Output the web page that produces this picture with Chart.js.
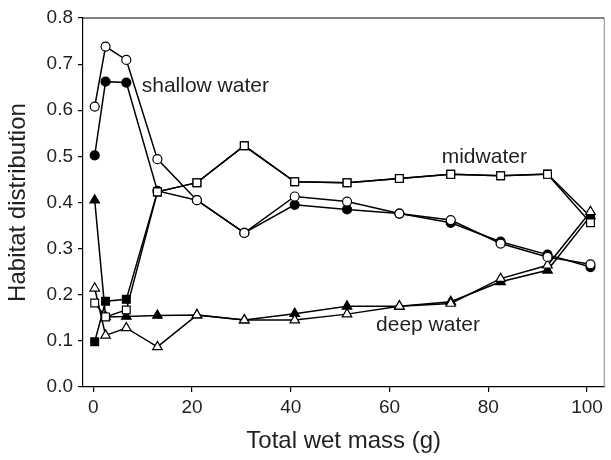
<!DOCTYPE html>
<html>
<head>
<meta charset="utf-8">
<script src="https://cdn.jsdelivr.net/npm/chart.js@4.4.0/dist/chart.umd.min.js"></script>
<style>
  html, body { margin: 0; padding: 0; background: #fff; }
  canvas { display: block; }
</style>
</head>
<body>
<canvas id="habitat" width="611" height="460"></canvas>
<script>
// total wet mass (g) at each sample
const mass = [0.3, 2.5, 6.7, 13, 21, 30.6, 40.8, 51.4, 62, 72.4, 82.5, 92, 100.7];

// habitat distribution, open and filled symbols
const shallowOpen   = [0.608, 0.738, 0.709, 0.494, 0.405, 0.334, 0.413, 0.402, 0.376, 0.362, 0.311, 0.282, 0.266];
const shallowFilled = [0.502, 0.662, 0.660, 0.425, 0.405, 0.334, 0.395, 0.385, 0.376, 0.356, 0.315, 0.287, 0.260];
const midOpen       = [0.182, 0.152, 0.167, 0.423, 0.443, 0.523, 0.445, 0.443, 0.452, 0.461, 0.458, 0.461, 0.356];
const midFilled     = [0.098, 0.186, 0.190, 0.423, 0.443, 0.523, 0.445, 0.443, 0.452, 0.461, 0.458, 0.462, 0.369];
const deepOpen      = [0.214, 0.112, 0.128, 0.087, 0.156, 0.145, 0.145, 0.158, 0.175, 0.181, 0.235, 0.264, 0.380];
const deepFilled    = [0.405, 0.152, 0.153, 0.155, 0.156, 0.145, 0.159, 0.175, 0.175, 0.185, 0.228, 0.253, 0.371];

const xTicks = [0, 20, 40, 60, 80, 100];
const yTicks = [0, 0.1, 0.2, 0.3, 0.4, 0.5, 0.6, 0.7, 0.8];

const seriesNames = ['shallow water', 'midwater', 'deep water'];
const namePos = [[22.7, 0.652], [79.2, 0.499], [67.8, 0.135]];

const FONT = '"Liberation Sans", Arial, Helvetica, sans-serif';
const INK = '#231f20';

const pts = vals => mass.map((m, i) => ({ x: m, y: vals[i] }));

function series(vals, style, filled, radius) {
  return {
    data: pts(vals),
    showLine: true,
    borderColor: '#000',
    borderWidth: 1.5,
    pointStyle: style,
    pointRadius: radius,
    pointHoverRadius: radius,
    pointBorderWidth: 1.2,
    pointBorderColor: '#000',
    pointBackgroundColor: filled ? '#000' : '#fff'
  };
}

// box around plot: top and right edges
const frame = {
  id: 'frame',
  afterDatasetsDraw(chart) {
    const { ctx, chartArea: a } = chart;
    ctx.save();
    ctx.lineWidth = 1.2;
    ctx.strokeStyle = '#000';
    ctx.beginPath();
    ctx.moveTo(a.left, a.top);
    ctx.lineTo(a.right, a.top);
    ctx.stroke();
    ctx.strokeStyle = '#999';
    ctx.beginPath();
    ctx.moveTo(a.right, a.top);
    ctx.lineTo(a.right, a.bottom);
    ctx.stroke();
    ctx.restore();
  }
};

const names = {
  id: 'names',
  afterDatasetsDraw(chart) {
    const { ctx, scales: { x, y } } = chart;
    ctx.save();
    ctx.font = '21px ' + FONT;
    ctx.fillStyle = INK;
    ctx.textAlign = 'center';
    ctx.textBaseline = 'middle';
    seriesNames.forEach((t, i) => {
      ctx.fillText(t, x.getPixelForValue(namePos[i][0]), y.getPixelForValue(namePos[i][1]));
    });
    ctx.restore();
  }
};

// first dataset is drawn on top, so the open symbols go first
new Chart(document.getElementById('habitat'), {
  type: 'scatter',
  data: {
    datasets: [
      series(midOpen, 'rect', false, 5.5),
      series(shallowOpen, 'circle', false, 4.5),
      series(deepOpen, 'triangle', false, 5.5),
      series(deepFilled, 'triangle', true, 5.5),
      series(midFilled, 'rect', true, 5.5),
      series(shallowFilled, 'circle', true, 4.5)
    ]
  },
  options: {
    responsive: false,
    animation: false,
    events: [],
    layout: { padding: { top: 18, right: 4, left: 0, bottom: 0 } },
    plugins: {
      legend: { display: false },
      tooltip: { enabled: false }
    },
    scales: {
      x: {
        type: 'linear',
        min: -2.07,
        max: 103.5,
        afterBuildTicks: s => { s.ticks = xTicks.map(v => ({ value: v })); },
        afterFit: s => { s.height = 73; },
        border: { display: true, color: '#000', width: 1.2 },
        grid: { drawOnChartArea: false, drawTicks: true, tickLength: 5, color: '#000', lineWidth: 1.2 },
        ticks: { color: INK, font: { family: FONT, size: 19 }, padding: 4, maxRotation: 0 },
        title: { display: true, text: 'Total wet mass (g)', color: INK, font: { family: FONT, size: 24 } }
      },
      y: {
        type: 'linear',
        min: 0,
        max: 0.8,
        afterBuildTicks: s => { s.ticks = yTicks.map(v => ({ value: v })); },
        afterFit: s => { s.width = 83; },
        border: { display: true, color: '#000', width: 1.2 },
        grid: { drawOnChartArea: false, drawTicks: true, tickLength: 5, color: '#000', lineWidth: 1.2 },
        ticks: { color: INK, font: { family: FONT, size: 19 }, padding: 5, callback: v => v.toFixed(1) },
        title: { display: true, text: 'Habitat distribution', color: INK, font: { family: FONT, size: 24 } }
      }
    }
  },
  plugins: [frame, names]
});
</script>
</body>
</html>
